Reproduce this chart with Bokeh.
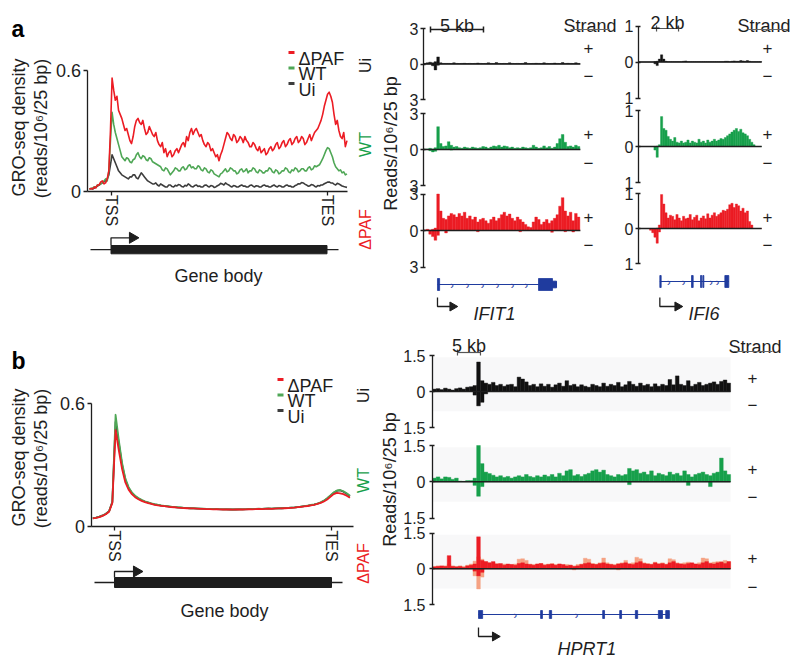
import math
from bokeh.plotting import figure
from bokeh.models import Range1d, LinearAxis, FixedTicker, CustomJSTickFormatter
from bokeh.core.properties import value
from bokeh.embed import file_html
from bokeh.resources import INLINE

# ------------------------------------------------------------------ data
# metagene position in % of gene body (TSS = 0, TES = 100)
A_PCT = [round(-10 + 0.75 * i, 2) for i in range(160)]
B_PCT = [round(-10 + 1.5 * i, 1) for i in range(80)]

A_PAF = [0.01, 0.012, 0.01, 0.02, 0.015, 0.03, 0.03, 0.045, 0.05, 0.035,
         0.04, 0.06, 0.10, 0.30, 0.56, 0.50, 0.45, 0.47, 0.40, 0.38,
         0.36, 0.33, 0.30, 0.31, 0.28, 0.25, 0.235, 0.27, 0.32, 0.35,
         0.36, 0.34, 0.33, 0.35, 0.31, 0.28, 0.29, 0.32, 0.30, 0.28,
         0.27, 0.29, 0.25, 0.23, 0.22, 0.24, 0.19, 0.21, 0.17, 0.19,
         0.20, 0.17, 0.18, 0.20, 0.21, 0.19, 0.21, 0.23, 0.24, 0.22,
         0.27, 0.25, 0.29, 0.31, 0.28, 0.30, 0.31, 0.29, 0.27, 0.28,
         0.25, 0.23, 0.22, 0.24, 0.23, 0.20, 0.21, 0.19, 0.17, 0.18,
         0.15, 0.18, 0.20, 0.23, 0.26, 0.29, 0.28, 0.26, 0.25, 0.28,
         0.27, 0.24, 0.25, 0.27, 0.26, 0.24, 0.27, 0.25, 0.24, 0.22,
         0.22, 0.24, 0.23, 0.21, 0.20, 0.22, 0.19, 0.20, 0.21, 0.18,
         0.19, 0.21, 0.22, 0.20, 0.21, 0.23, 0.24, 0.21, 0.22, 0.24,
         0.25, 0.22, 0.23, 0.25, 0.26, 0.23, 0.24, 0.26, 0.27, 0.24,
         0.25, 0.27, 0.26, 0.23, 0.24, 0.26, 0.28, 0.25, 0.27, 0.29,
         0.30, 0.31, 0.33, 0.35, 0.38, 0.42, 0.45, 0.48, 0.49, 0.47,
         0.44, 0.38, 0.33, 0.35, 0.30, 0.27, 0.26, 0.29, 0.22, 0.25]
A_WT = [0.01, 0.012, 0.015, 0.02, 0.02, 0.03, 0.03, 0.035, 0.04, 0.05,
        0.06, 0.05, 0.10, 0.25, 0.39, 0.33, 0.29, 0.26, 0.23, 0.20,
        0.17, 0.16, 0.15, 0.165, 0.16, 0.145, 0.14, 0.155, 0.16, 0.18,
        0.19, 0.17, 0.16, 0.175, 0.17, 0.155, 0.15, 0.165, 0.16, 0.145,
        0.14, 0.135, 0.13, 0.125, 0.12, 0.105, 0.10, 0.115, 0.11, 0.095,
        0.08, 0.09, 0.10, 0.115, 0.11, 0.10, 0.10, 0.115, 0.12, 0.105,
        0.11, 0.125, 0.13, 0.115, 0.12, 0.11, 0.11, 0.125, 0.12, 0.105,
        0.10, 0.115, 0.11, 0.095, 0.09, 0.105, 0.10, 0.085, 0.08, 0.075,
        0.07, 0.085, 0.09, 0.10, 0.11, 0.095, 0.10, 0.115, 0.11, 0.10,
        0.10, 0.085, 0.09, 0.105, 0.11, 0.095, 0.10, 0.11, 0.09, 0.10,
        0.10, 0.115, 0.11, 0.095, 0.09, 0.105, 0.10, 0.09, 0.09, 0.10,
        0.10, 0.115, 0.11, 0.095, 0.09, 0.105, 0.10, 0.085, 0.09, 0.10,
        0.10, 0.115, 0.11, 0.095, 0.09, 0.105, 0.10, 0.115, 0.11, 0.095,
        0.10, 0.11, 0.11, 0.10, 0.10, 0.115, 0.12, 0.105, 0.11, 0.125,
        0.12, 0.125, 0.13, 0.145, 0.16, 0.18, 0.20, 0.215, 0.21, 0.19,
        0.17, 0.14, 0.12, 0.11, 0.10, 0.105, 0.09, 0.095, 0.08, 0.085]
A_UI = [0.01, 0.012, 0.01, 0.015, 0.02, 0.025, 0.03, 0.035, 0.04, 0.045,
        0.05, 0.06, 0.08, 0.13, 0.18, 0.16, 0.14, 0.12, 0.10, 0.09,
        0.08, 0.075, 0.07, 0.065, 0.06, 0.07, 0.07, 0.08, 0.08, 0.065,
        0.06, 0.075, 0.09, 0.08, 0.07, 0.06, 0.05, 0.045, 0.04, 0.035,
        0.035, 0.04, 0.03, 0.025, 0.035, 0.03, 0.025, 0.02, 0.02, 0.03,
        0.03, 0.022, 0.02, 0.028, 0.025, 0.032, 0.03, 0.022, 0.02, 0.028,
        0.025, 0.035, 0.03, 0.022, 0.02, 0.027, 0.03, 0.023, 0.025, 0.02,
        0.02, 0.028, 0.03, 0.024, 0.02, 0.027, 0.025, 0.018, 0.02, 0.026,
        0.03, 0.038, 0.035, 0.03, 0.04, 0.034, 0.03, 0.024, 0.02, 0.027,
        0.025, 0.02, 0.02, 0.026, 0.03, 0.024, 0.025, 0.02, 0.02, 0.027,
        0.03, 0.024, 0.02, 0.026, 0.025, 0.02, 0.02, 0.027, 0.03, 0.024,
        0.025, 0.02, 0.02, 0.026, 0.03, 0.023, 0.02, 0.027, 0.025, 0.02,
        0.02, 0.027, 0.03, 0.024, 0.025, 0.02, 0.02, 0.027, 0.03, 0.036,
        0.035, 0.042, 0.04, 0.034, 0.03, 0.024, 0.025, 0.032, 0.03, 0.024,
        0.02, 0.027, 0.025, 0.03, 0.03, 0.036, 0.04, 0.044, 0.045, 0.04,
        0.04, 0.034, 0.03, 0.038, 0.035, 0.03, 0.025, 0.022, 0.02, 0.018]

B_PAF = [0.040, 0.042, 0.046, 0.052, 0.060, 0.072, 0.115, 0.470, 0.370, 0.280,
         0.215, 0.180, 0.158, 0.143, 0.133, 0.125, 0.119, 0.114, 0.110, 0.106,
         0.103, 0.101, 0.099, 0.097, 0.095, 0.094, 0.092, 0.091, 0.090, 0.089,
         0.088, 0.088, 0.087, 0.086, 0.086, 0.085, 0.085, 0.084, 0.085, 0.084,
         0.083, 0.084, 0.083, 0.082, 0.083, 0.084, 0.083, 0.084, 0.085, 0.084,
         0.085, 0.086, 0.085, 0.086, 0.087, 0.086, 0.087, 0.088, 0.088, 0.089,
         0.090, 0.091, 0.092, 0.094, 0.096, 0.098, 0.100, 0.103, 0.106, 0.110,
         0.115, 0.122, 0.132, 0.145, 0.158, 0.164, 0.162, 0.158, 0.150, 0.140]
B_WT = [0.040, 0.043, 0.047, 0.053, 0.061, 0.074, 0.118, 0.545, 0.420, 0.310,
        0.235, 0.192, 0.166, 0.150, 0.139, 0.130, 0.123, 0.118, 0.113, 0.109,
        0.106, 0.103, 0.101, 0.099, 0.097, 0.095, 0.094, 0.093, 0.091, 0.090,
        0.089, 0.089, 0.088, 0.087, 0.087, 0.086, 0.086, 0.085, 0.086, 0.085,
        0.084, 0.085, 0.084, 0.083, 0.084, 0.085, 0.084, 0.085, 0.086, 0.085,
        0.086, 0.087, 0.086, 0.087, 0.088, 0.087, 0.088, 0.089, 0.089, 0.090,
        0.091, 0.092, 0.093, 0.095, 0.097, 0.099, 0.102, 0.105, 0.108, 0.112,
        0.118, 0.126, 0.138, 0.152, 0.166, 0.176, 0.178, 0.172, 0.162, 0.150]
B_UI = [0.041, 0.043, 0.048, 0.054, 0.062, 0.075, 0.120, 0.510, 0.405, 0.300,
        0.228, 0.188, 0.163, 0.148, 0.137, 0.128, 0.122, 0.117, 0.112, 0.108,
        0.105, 0.102, 0.100, 0.098, 0.096, 0.095, 0.093, 0.092, 0.091, 0.090,
        0.089, 0.088, 0.087, 0.087, 0.086, 0.086, 0.085, 0.085, 0.085, 0.084,
        0.084, 0.084, 0.083, 0.083, 0.083, 0.084, 0.084, 0.084, 0.085, 0.085,
        0.085, 0.086, 0.086, 0.087, 0.087, 0.087, 0.088, 0.088, 0.089, 0.090,
        0.091, 0.092, 0.093, 0.095, 0.097, 0.099, 0.101, 0.104, 0.107, 0.111,
        0.117, 0.125, 0.137, 0.150, 0.164, 0.174, 0.176, 0.170, 0.160, 0.148]

# ---- IFIT1 locus (kb from left edge of track), 0.25 kb bins
IFIT1_REGION_KB = 14.8
IFIT1_BIN_KB = 0.25
IFIT1_UI = [0.05, 0.1, 0.15, 0.1, 0.2, 0.6, 0.1, 0.05, 0.05, 0.05,
            0.04, 0.1, 0.05, 0.04, 0.05, 0.06, 0.04, 0.05, 0.04, 0.05,
            0.08, 0.05, 0.04, 0.05, 0.1, 0.05, 0.04, 0.12, 0.05, 0.04,
            0.05, 0.04, 0.1, 0.05, 0.04, 0.05, 0.04, 0.05, 0.12, 0.05,
            0.04, 0.05, 0.06, 0.05, 0.04, 0.1, 0.05, 0.04, 0.05, 0.08,
            0.05, 0.04, 0.12, 0.05, 0.06, 0.05, 0.04, 0.1, 0.05]
IFIT1_WT = [0.02, 0.05, 0.1, 0.05, 0.15, 1.9, 0.5, 0.25, 0.3, 0.65,
            0.35, 0.2, 0.25, 0.15, 0.1, 0.2, 0.15, 0.1, 0.2, 0.15,
            0.1, 0.15, 0.25, 0.2, 0.1, 0.2, 0.3, 0.25, 0.35, 0.2,
            0.3, 0.25, 0.15, 0.2, 0.1, 0.15, 0.1, 0.2, 0.15, 0.1,
            0.15, 0.35, 0.2, 0.1, 0.15, 0.3, 0.15, 0.25, 0.1, 0.2,
            0.5, 0.9, 1.25, 0.6, 0.25, 0.3, 0.2, 0.35, 0.25]
IFIT1_PAF = [0.05, 0.1, 0.05, 0.1, 0.2, 3.0, 1.6, 1.0, 0.9, 1.2,
             1.4, 1.3, 1.1, 1.4, 1.2, 1.5, 1.0, 1.2, 0.9, 1.1,
             0.7, 0.9, 1.0, 0.8, 0.6, 0.9, 1.1, 0.8, 1.0, 1.3,
             1.5, 1.2, 1.35, 1.0, 0.8, 1.1, 0.9, 0.7, 0.5, 0.3,
             0.25, 0.7, 1.1, 0.9, 0.5, 0.7, 0.9, 0.6, 0.8, 1.0,
             1.3, 2.0, 2.7, 1.6, 1.2, 1.5, 0.8, 1.4, 1.1]
IFIT1_UI_NEG_BINS, IFIT1_UI_NEG = [3, 4, 5], [-0.15, -0.5, -0.1]
IFIT1_WT_NEG_BINS, IFIT1_WT_NEG = [2, 3, 4, 10], [-0.1, -0.2, -0.15, -0.05]
IFIT1_PAF_NEG_BINS = [2, 3, 4, 5, 8, 20, 36, 48, 53, 56]
IFIT1_PAF_NEG = [-0.3, -0.5, -0.8, -0.4, -0.2, -0.1, -0.1, -0.15, -0.1, -0.12]
IFIT1_SPAN = (1.32, 12.55)
IFIT1_EXONS = [(1.32, 1.52), (10.85, 12.17)]
IFIT1_UTR = [(12.17, 12.55)]
IFIT1_INTRON_MARKS = [2.7, 4.15, 5.57, 6.98, 8.4, 9.7]

# ---- IFI6 locus, 0.2 kb bins
IFI6_REGION_KB = 11.2
IFI6_BIN_KB = 0.2
IFI6_UI = [0, 0, 0, 0, 0, 0, 0, 0.01, 0.02, 0.08, 0.2, 0.08, 0.02, 0.01, 0.01, 0.01,
           0.01, 0.01, 0.01, 0.01, 0.02, 0.03, 0.01, 0.01, 0.01, 0.01, 0.01, 0.01,
           0.01, 0.01, 0.01, 0.01, 0.01, 0.01, 0.01, 0.01, 0.01, 0.01, 0.01, 0.02,
           0.02, 0.01, 0.02, 0.03, 0.02, 0.02, 0.04, 0.03, 0.02, 0.04, 0.02, 0.01,
           0.01, 0.01, 0.01, 0.01]
IFI6_WT = [0, 0, 0, 0, 0, 0, 0, 0, 0.01, 0.05, 0.83, 0.5, 0.45, 0.28, 0.2, 0.15,
           0.25, 0.12, 0.1, 0.15, 0.1, 0.12, 0.18, 0.1, 0.15, 0.12, 0.1, 0.2,
           0.12, 0.15, 0.1, 0.18, 0.12, 0.15, 0.2, 0.15, 0.18, 0.22, 0.2, 0.25,
           0.3, 0.35, 0.4, 0.45, 0.5, 0.42, 0.48, 0.38, 0.35, 0.3, 0.2, 0.12,
           0.05, 0, 0, 0]
IFI6_PAF = [0, 0, 0, 0, 0, 0, 0, 0, 0.01, 0.1, 0.97, 0.7, 0.45, 0.3, 0.38, 0.35,
            0.25, 0.4, 0.3, 0.22, 0.35, 0.28, 0.3, 0.4, 0.25, 0.32, 0.38, 0.22,
            0.3, 0.36, 0.28, 0.42, 0.3, 0.38, 0.45, 0.35, 0.4, 0.45, 0.52, 0.5,
            0.55, 0.68, 0.72, 0.6, 0.7, 0.65, 0.5, 0.58, 0.45, 0.5, 0.2, 0.1,
            0, 0, 0, 0]
IFI6_UI_NEG_BINS, IFI6_UI_NEG = [7, 8], [-0.05, -0.1]
IFI6_WT_NEG_BINS, IFI6_WT_NEG = [7, 8], [-0.1, -0.3]
IFI6_PAF_NEG_BINS, IFI6_PAF_NEG = [5, 6, 7, 8, 9], [-0.05, -0.12, -0.25, -0.42, -0.1]
IFI6_SPAN = (1.94, 8.21)
IFI6_EXONS = [(1.94, 2.06), (4.82, 4.97), (5.64, 5.75), (5.85, 5.94), (7.85, 8.21)]
IFI6_INTRON_MARKS = [2.75, 4.1, 6.6, 7.2]

# ---- HPRT1 locus, 0.8 kb bins
HPRT1_REGION_KB = 64.8
HPRT1_BIN_KB = 0.8
HPRT1_UI = [0.1, 0.12, 0.08, 0.14, 0.1, 0.06, 0.12, 0.15, 0.1, 0.18, 0.2, 0.25,
            1.23,
            0.45, 0.35, 0.3, 0.38, 0.25, 0.3, 0.22, 0.28, 0.3, 0.2,
            0.6, 0.52, 0.4,
            0.25, 0.3, 0.2, 0.32, 0.22, 0.3, 0.18, 0.28, 0.35, 0.22,
            0.45, 0.25, 0.3, 0.2, 0.28, 0.22, 0.18, 0.3, 0.25, 0.2,
            0.35, 0.22, 0.3, 0.25, 0.38, 0.2, 0.28, 0.42, 0.3, 0.22,
            0.35, 0.25, 0.3, 0.2, 0.32, 0.22, 0.3, 0.25, 0.5, 0.28,
            0.65, 0.3, 0.25, 0.45, 0.22, 0.3, 0.38, 0.25, 0.3, 0.35, 0.4, 0.3, 0.42, 0.48, 0.35]
HPRT1_WT = [0.15, 0.2, 0.12, 0.2, 0.18, 0.1, 0.15, 0.03, 0.02, 0.05, 0.05, 0.15,
            1.5,
            0.75, 0.4, 0.34, 0.27, 0.2, 0.25, 0.18, 0.22, 0.15, 0.2,
            0.25, 0.2, 0.3, 0.22, 0.18, 0.25, 0.2, 0.28,
            0.22, 0.3, 0.2, 0.35, 0.25, 0.45, 0.5, 0.25, 0.3, 0.22,
            0.3, 0.35, 0.45, 0.5, 0.4, 0.48, 0.3, 0.25, 0.2, 0.3,
            0.25, 0.3, 0.55, 0.45, 0.5, 0.35, 0.4, 0.3, 0.45, 0.25,
            0.35, 0.3, 0.25, 0.4, 0.3, 0.35, 0.25, 0.45, 0.3, 0.2,
            0.3, 0.35, 0.4, 0.3, 0.25, 0.35, 0.4, 0.98, 0.45, 0.3]
HPRT1_PAF = [0.08, 0.1, 0.12, 0.1, 0.55, 0.1, 0.08, 0.1, 0.06, 0.12, 0.15, 0.2,
             1.34,
             0.35, 0.3, 0.25, 0.3, 0.2, 0.22, 0.15, 0.2, 0.18, 0.15,
             0.22, 0.25, 0.2, 0.18, 0.15, 0.2, 0.22, 0.15, 0.18, 0.2,
             0.15, 0.2, 0.18, 0.12, 0.15, 0.1, 0.12, 0.18, 0.22, 0.25,
             0.2, 0.18, 0.22, 0.25, 0.2, 0.18, 0.15, 0.2, 0.22, 0.25,
             0.2, 0.18, 0.25, 0.3, 0.22, 0.2, 0.18, 0.25, 0.2, 0.22,
             0.18, 0.25, 0.3, 0.22, 0.2, 0.18, 0.22, 0.25, 0.2, 0.18,
             0.25, 0.3, 0.22, 0.2, 0.25, 0.28, 0.22, 0.3]
HPRT1_PAF_REP = [0.1, 0.12, 0.1, 0.12, 0.2, 0.12, 0.1, 0.12, 0.1, 0.15, 0.2,
                 0.32, 0.5, 0.4,
                 0.3, 0.25, 0.2, 0.22, 0.18, 0.2, 0.15, 0.18, 0.2,
                 0.4, 0.42, 0.35,
                 0.2, 0.18, 0.2, 0.22, 0.18, 0.2, 0.22, 0.18, 0.2, 0.15, 0.18, 0.15, 0.12, 0.18, 0.2,
                 0.44, 0.4,
                 0.22, 0.2, 0.25,
                 0.45,
                 0.25, 0.2, 0.18, 0.22, 0.25,
                 0.35,
                 0.22, 0.25,
                 0.48, 0.42,
                 0.25, 0.22, 0.2, 0.28, 0.22, 0.25, 0.2,
                 0.42, 0.38,
                 0.25, 0.22, 0.25, 0.28, 0.22, 0.2, 0.25,
                 0.45, 0.42,
                 0.25, 0.28, 0.3, 0.3,
                 0.35, 0.3]
HPRT1_UI_NEG_BINS, HPRT1_UI_NEG = [11, 12, 13, 14], [-0.15, -0.6, -0.45, -0.1]
HPRT1_WT_NEG_BINS = [11, 12, 13, 53, 69, 75]
HPRT1_WT_NEG = [-0.15, -0.6, -0.2, -0.12, -0.15, -0.2]
HPRT1_PAF_NEG_BINS, HPRT1_PAF_NEG = [11, 12, 13], [-0.1, -0.3, -0.15]
HPRT1_REP_NEG_BINS, HPRT1_REP_NEG = [11, 12, 13, 38, 50], [-0.3, -0.85, -0.35, -0.05, -0.05]
HPRT1_SPAN = (10.0, 51.5)
HPRT1_EXONS = [(10.0, 10.9), (23.5, 23.9), (25.4, 25.9), (37.0, 37.4), (40.7, 41.1),
               (44.1, 44.6), (49.1, 50.0), (50.7, 51.5)]
HPRT1_INTRON_MARKS = [18.0, 31.3]

SCALE_IFIT1_KB, SCALE_IFI6_KB, SCALE_HPRT1_KB = 5, 2, 5

# ------------------------------------------------------------------ style / layout
FONT = "Liberation Sans"
RED = "#ec1c24"
GREEN_LINE = "#4fa756"
GRAY_LINE = "#3d3d3d"
UI_FILL = "#111111"
WT_FILL = "#17a04b"
PAF_FILL = "#ec1c24"
REP_FILL = "#f6a283"
WT_TEXT = "#17a04b"
BLUE = "#1f3b9e"
INK = "#1e1e1e"

FX0, FX1, FY0, FY1 = 0, 800, 0, 657  # page pixels covered by the frame

X_ANCHORS = {
    "ax": (0, 110.5, 100, 326.5),
    "bx": (0, 114, 100, 331),
    "if1": (0, 423, 5, 476),
    "if6": (0, 638, 2, 660),
    "hp": (0, 432, 5, 455),
}
Y_ANCHORS = {
    "ay": (0, 190.5, 0.6, 69.5),
    "by": (0, 526, 0.6, 403),
    "if1_0": (-3, 99, 3, 28), "if1_1": (-3, 185, 3, 113), "if1_2": (-3, 266.5, 3, 193.5),
    "if6_0": (-1, 97.5, 1, 25.5), "if6_1": (-1, 182, 1, 110), "if6_2": (-1, 263, 1, 193),
    "hp_0": (-1.5, 427, 1.5, 355), "hp_1": (-1.5, 517.5, 1.5, 445), "hp_2": (-1.5, 604, 1.5, 532.5),
}


def make_xr(v0, p0, v1, p1):
    k = (v1 - v0) / (p1 - p0)
    return Range1d(v0 + (FX0 - p0) * k, v0 + (FX1 - p0) * k)


def make_yr(v0, p0, v1, p1):
    k = (v1 - v0) / (p0 - p1)
    return Range1d(v0 - (FY1 - p0) * k, v0 + (p0 - FY0) * k)


def xval(name, px):
    v0, p0, v1, p1 = X_ANCHORS[name]
    return v0 + (px - p0) * (v1 - v0) / (p1 - p0)


def Y(py):
    return -py


p = figure(width=FX1 - FX0, height=FY1 - FY0,
           x_range=Range1d(FX0, FX1), y_range=Range1d(-FY1, -FY0),
           output_backend="svg", toolbar_location=None, min_border=0,
           x_axis_location=None, y_axis_location=None)
p.outline_line_color = None
p.background_fill_color = "white"
p.border_fill_color = "white"
p.xgrid.grid_line_color = None
p.ygrid.grid_line_color = None
p.extra_x_ranges = {k: make_xr(*v) for k, v in X_ANCHORS.items()}
p.extra_y_ranges = {k: make_yr(*v) for k, v in Y_ANCHORS.items()}


def label(x, y, s, size=18, color=INK, angle=0.0, align="left", baseline="alphabetic",
          style="normal", xr="default", yr="default"):
    p.text(x=[x], y=[y], text=[s], text_font=value(FONT), text_font_size=value(f"{size}px"),
           text_color=color, angle=angle, text_align=align, text_baseline=baseline,
           text_font_style=style, x_range_name=xr, y_range_name=yr)


def axis(side, xr, yr, loc, bounds, ticks, code, size, tick_in, tick_out, standoff, orient="horizontal"):
    ax = LinearAxis(x_range_name=xr, y_range_name=yr, fixed_location=loc, bounds=bounds,
                    ticker=FixedTicker(ticks=ticks, minor_ticks=[]),
                    formatter=CustomJSTickFormatter(code=code))
    ax.axis_line_color = INK
    ax.axis_line_width = 1.3
    ax.major_tick_line_color = INK
    ax.major_tick_line_width = 1.3
    ax.major_tick_in = tick_in
    ax.major_tick_out = tick_out
    ax.minor_tick_line_color = None
    ax.major_label_standoff = standoff
    ax.major_label_text_font = FONT
    ax.major_label_text_font_size = f"{size}px"
    ax.major_label_text_color = INK
    ax.major_label_orientation = orient
    p.add_layout(ax, side)


# ------------------------------------------------------------------ metagene panels
def metagene(xr, yr, axis_px, end_px, xs, paf, wt, ui, lw):
    for vals, col in [(ui, GRAY_LINE), (wt, GREEN_LINE), (paf, RED)]:
        p.line(xs, vals, x_range_name=xr, y_range_name=yr, line_color=col, line_width=lw,
               line_join="round")
    loc = xval(xr, axis_px)
    axis("left", xr, yr, loc, (0, 0.6), [0, 0.6],
         "return tick === 0 ? '0' : tick.toFixed(1);", 18, 0, 4, 2)
    axis("below", xr, yr, 0, (loc, xval(xr, end_px)), [0, 100],
         "return tick < 50 ? 'TSS' : 'TES';", 16, 0, 4, 0, orient="vertical")


metagene("ax", "ay", 86.5, 347, A_PCT, A_PAF, A_WT, A_UI, 1.6)
metagene("bx", "by", 90.5, 353, B_PCT, B_PAF, B_WT, B_UI, 1.8)


def gene_body(xr, line_px, box_top, box_bot, arrow_top, head_at, text_x, text_base):
    p.segment(x0=[xval(xr, line_px[0])], x1=[xval(xr, line_px[1])], y0=[Y((box_top + box_bot) / 2)],
              y1=[Y((box_top + box_bot) / 2)], x_range_name=xr, line_color=INK, line_width=1.3)
    p.quad(left=[0], right=[100], top=[Y(box_top)], bottom=[Y(box_bot)], x_range_name=xr,
           fill_color=INK, line_color=INK)
    p.line(x=[0, 0, head_at], y=[Y(box_top), Y(arrow_top), Y(arrow_top)], x_range_name=xr,
           line_color=INK, line_width=1.3)
    p.scatter(x=[head_at], y=[Y(arrow_top)], marker="triangle", angle=-math.pi / 2, size=11,
              x_range_name=xr, fill_color=INK, line_color=INK)
    label(text_x, Y(text_base), "Gene body", align="center")


gene_body("ax", (90, 338), 245, 253.3, 237.3, 10.0, 218, 275)
gene_body("bx", (94, 342), 577, 587, 571, 10.2, 224, 610)

# y labels, panel letters, legends
for cx, cy in [(18, 127), (18, 457)]:
    label(cx, Y(cy), "GRO-seq density", angle=math.pi / 2, align="center", baseline="middle")
    label(cx + 22, Y(cy + 1), "(reads/10\u2076/25 bp)", angle=math.pi / 2, align="center", baseline="middle")
label(11, Y(28), "a", size=23, style="bold", color="black")
label(11, Y(360), "b", size=23, style="bold", color="black")

LEGEND = [("\u0394PAF", RED), ("WT", GREEN_LINE), ("Ui", GRAY_LINE)]
for (lx, ly0) in [(288, 52), (277, 379)]:
    for i, (name, col) in enumerate(LEGEND):
        yy = ly0 + i * 15.5
        p.segment(x0=[lx], x1=[lx + 6], y0=[Y(yy)], y1=[Y(yy)], line_color=col, line_width=3)
        label(lx + 10, Y(yy + 6.3), name)


# ------------------------------------------------------------------ browser tracks
def track(xr, yr, bin_kb, region_kb, pos, neg_bins, neg_vals, color, lim, bg=None):
    if bg is not None:
        p.quad(left=[0.15 * bin_kb], right=[region_kb], bottom=[-0.55 * lim], top=[0.95 * lim],
               x_range_name=xr, y_range_name=yr, fill_color=bg, line_color=None)
    left = [i * bin_kb for i in range(len(pos))]
    p.quad(left=left, right=[l + bin_kb for l in left], bottom=0, top=pos,
           x_range_name=xr, y_range_name=yr, fill_color=color, line_color=color, line_width=0.4)
    nl = [b * bin_kb for b in neg_bins]
    p.quad(left=nl, right=[l + bin_kb for l in nl], bottom=neg_vals, top=0,
           x_range_name=xr, y_range_name=yr, fill_color=color, line_color=color, line_width=0.4)


def track_axis(xr, yr, region_kb, lim, standoff):
    p.segment(x0=[0], x1=[region_kb], y0=[0], y1=[0], x_range_name=xr, y_range_name=yr,
              line_color=INK, line_width=1.3)
    axis("left", xr, yr, 0, (-lim, lim), [-lim, 0, lim],
         "return String(Math.abs(tick));", 16, 2, 3, standoff)


# IFIT1
for yr, pos, nb, nv, col in [("if1_0", IFIT1_UI, IFIT1_UI_NEG_BINS, IFIT1_UI_NEG, UI_FILL),
                             ("if1_1", IFIT1_WT, IFIT1_WT_NEG_BINS, IFIT1_WT_NEG, WT_FILL),
                             ("if1_2", IFIT1_PAF, IFIT1_PAF_NEG_BINS, IFIT1_PAF_NEG, PAF_FILL)]:
    track("if1", yr, IFIT1_BIN_KB, IFIT1_REGION_KB, pos, nb, nv, col, 3)
    track_axis("if1", yr, IFIT1_REGION_KB, 3, 2)

# IFI6
for yr, pos, nb, nv, col in [("if6_0", IFI6_UI, IFI6_UI_NEG_BINS, IFI6_UI_NEG, UI_FILL),
                             ("if6_1", IFI6_WT, IFI6_WT_NEG_BINS, IFI6_WT_NEG, WT_FILL),
                             ("if6_2", IFI6_PAF, IFI6_PAF_NEG_BINS, IFI6_PAF_NEG, PAF_FILL)]:
    track("if6", yr, IFI6_BIN_KB, IFI6_REGION_KB, pos, nb, nv, col, 1)
    track_axis("if6", yr, IFI6_REGION_KB, 1, 2)

# HPRT1
BG = "#f8f8f9"
track("hp", "hp_0", HPRT1_BIN_KB, HPRT1_REGION_KB, HPRT1_UI, HPRT1_UI_NEG_BINS, HPRT1_UI_NEG,
      UI_FILL, 1.5, bg=BG)
track("hp", "hp_1", HPRT1_BIN_KB, HPRT1_REGION_KB, HPRT1_WT, HPRT1_WT_NEG_BINS, HPRT1_WT_NEG,
      WT_FILL, 1.5, bg=BG)
track("hp", "hp_2", HPRT1_BIN_KB, HPRT1_REGION_KB, HPRT1_PAF_REP, HPRT1_REP_NEG_BINS, HPRT1_REP_NEG,
      REP_FILL, 1.5, bg=BG)
track("hp", "hp_2", HPRT1_BIN_KB, HPRT1_REGION_KB, HPRT1_PAF, HPRT1_PAF_NEG_BINS, HPRT1_PAF_NEG,
      PAF_FILL, 1.5)
for yr in ["hp_0", "hp_1", "hp_2"]:
    track_axis("hp", yr, HPRT1_REGION_KB, 1.5, 4)


def gene_model(xr, span, exons, marks, py, half_h, utr=(), name="", name_x=0, name_base=0,
               arrow_top=0, arrow_bot=0, head_kb=0):
    p.segment(x0=[span[0]], x1=[span[1]], y0=[Y(py)], y1=[Y(py)], x_range_name=xr,
              line_color=BLUE, line_width=1.1)
    p.quad(left=[e[0] for e in exons], right=[e[1] for e in exons], top=Y(py - half_h),
           bottom=Y(py + half_h), x_range_name=xr, fill_color=BLUE, line_color=BLUE, line_width=0.8)
    if utr:
        p.quad(left=[e[0] for e in utr], right=[e[1] for e in utr], top=Y(py - half_h * 0.55),
               bottom=Y(py + half_h * 0.55), x_range_name=xr, fill_color=BLUE, line_color=BLUE)
    p.text(x=marks, y=[Y(py)] * len(marks), text=["\u203a"] * len(marks), x_range_name=xr,
           text_font=value(FONT), text_font_size=value("11px"), text_color=BLUE,
           text_align="center", text_baseline="middle")
    p.line(x=[span[0], span[0], head_kb], y=[Y(arrow_top), Y(arrow_bot), Y(arrow_bot)],
           x_range_name=xr, line_color=INK, line_width=1.3)
    p.scatter(x=[head_kb], y=[Y(arrow_bot)], marker="triangle", angle=-math.pi / 2, size=9,
              x_range_name=xr, fill_color=INK, line_color=INK)
    label(name_x, Y(name_base), name, style="italic")


gene_model("if1", IFIT1_SPAN, IFIT1_EXONS, IFIT1_INTRON_MARKS, 284, 6, utr=IFIT1_UTR,
           name="IFIT1", name_x=473, name_base=313, arrow_top=297, arrow_bot=306, head_kb=2.74)
gene_model("if6", IFI6_SPAN, IFI6_EXONS, IFI6_INTRON_MARKS, 281, 6,
           name="IFI6", name_x=688, name_base=313, arrow_top=297, arrow_bot=306, head_kb=3.55)
gene_model("hp", HPRT1_SPAN, HPRT1_EXONS, HPRT1_INTRON_MARKS, 614, 4,
           name="HPRT1", name_x=557, name_base=648, arrow_top=627, arrow_bot=636, head_kb=13.6)


def scale_bar(xr, start_kb, length_kb, py, color, width, text, text_base):
    xs = [start_kb, start_kb + length_kb]
    p.segment(x0=[xs[0]], x1=[xs[1]], y0=[Y(py)], y1=[Y(py)], x_range_name=xr,
              line_color=color, line_width=width)
    p.segment(x0=xs, x1=xs, y0=[Y(py - 3)] * 2, y1=[Y(py + 3)] * 2, x_range_name=xr,
              line_color=color, line_width=width)
    label((xs[0] + xs[1]) / 2, Y(text_base), text, align="center", xr=xr)


scale_bar("if1", 0.66, SCALE_IFIT1_KB, 29, INK, 1.5, "5 kb", 25)
scale_bar("if6", 1.64, SCALE_IFI6_KB, 28, "#555555", 1.2, "2 kb", 22)
scale_bar("hp", 5.43, SCALE_HPRT1_KB, 352, "#555555", 1.2, "5 kb", 345)


def strand(x_text, base, ux0, ux1, uy, pm_x, pm_rows):
    label(x_text, Y(base), "Strand")
    p.segment(x0=[ux0], x1=[ux1], y0=[Y(uy)], y1=[Y(uy)], line_color="#666666", line_width=1)
    for yp, ym in pm_rows:
        label(pm_x, Y(yp), "+", size=17, align="center", baseline="middle")
        label(pm_x, Y(ym), "\u2212", size=17, align="center", baseline="middle")


strand(563, 25, 570, 609, 29, 588, [(47, 75), (133, 162), (216, 244)])
strand(737, 25, 747, 787, 29, 767, [(47, 75), (133, 162), (216, 244)])
strand(728, 346, 733, 772, 351, 752, [(377, 404), (468, 496), (557, 586)])

for (x_lab, rows, x_reads, y_reads) in [(365, [65, 144, 229], 390, 143), (363, [395, 480, 563], 389, 479)]:
    for (txt, col), yy in zip([("Ui", INK), ("WT", WT_TEXT), ("\u0394PAF", RED)], rows):
        label(x_lab, Y(yy), txt, size=16, color=col, angle=math.pi / 2, align="center", baseline="middle")
    label(x_reads, Y(y_reads), "Reads/10\u2076/25 bp", angle=math.pi / 2, align="center", baseline="middle")

open("out.html", "w").write(file_html(p, INLINE))
